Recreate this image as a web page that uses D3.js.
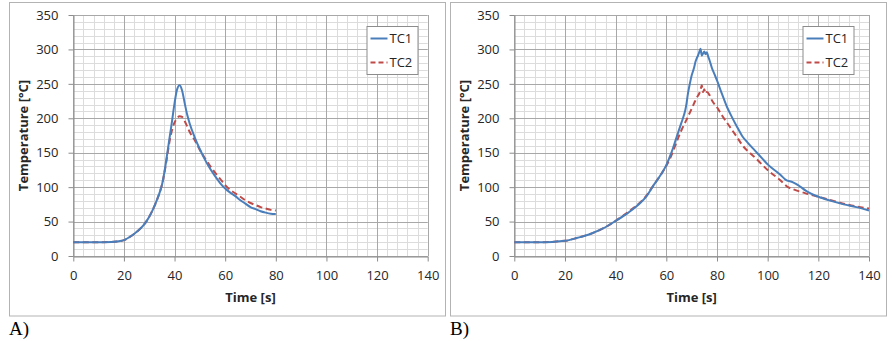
<!DOCTYPE html>
<html>
<head>
<meta charset="utf-8">
<script src="https://cdn.jsdelivr.net/npm/d3@7"></script>
<style>
  html, body { margin: 0; padding: 0; background: #fff; }
  svg { display: block; }
  text { font-family: "Open Sans", "Noto Sans", sans-serif; }
</style>
</head>
<body>
<svg id="chart" width="893" height="341"></svg>
<script>
// Time axis ticks [s] and temperature ticks [°C]
const timeTicks = [0, 20, 40, 60, 80, 100, 120, 140];
const tempTicks = [0, 50, 100, 150, 200, 250, 300, 350];
const seriesNames = ["TC1", "TC2"];
const panelLabels = ["A)", "B)"];

// Test A: time [s]
const timeA = [0, 5, 10, 15, 18, 20, 22, 24, 26, 28, 29, 30, 31, 32, 33, 34, 35, 36, 37, 38, 39, 40, 41, 42, 43, 44, 45, 46, 48, 50, 52, 54, 56, 58, 60, 62, 64, 66, 68, 70, 72, 74, 76, 78, 80];
const tc1A = [20, 20, 20, 20.5, 21.5, 23, 27, 32, 38, 46, 51, 57, 64, 72, 81, 91, 103, 122, 146, 171, 196, 222, 242, 248, 240, 222, 205, 192, 172, 155, 140, 127, 116, 106, 98, 92, 87, 81, 76, 71, 68, 65, 63, 61.5, 61];
const tc2A = [20, 20, 20, 20.5, 21.5, 23, 27, 32, 38, 46, 51, 57, 64, 72, 81, 91, 103, 121, 143, 166, 183, 194, 200, 203, 202, 196, 188, 180, 168, 154, 142, 131, 121, 112, 103, 96, 91, 86, 81, 77, 74, 71, 69, 67, 66];

// Test B: time [s]
const timeB1 = [0, 5, 10, 15, 18, 20, 25, 30, 35, 40, 45, 50, 52, 55, 58, 60, 62, 64, 66, 67, 67.5, 68, 68.5, 69, 69.5, 70, 70.5, 71, 71.5, 72, 72.5, 73, 73.5, 74, 74.5, 75, 75.5, 76, 76.5, 77, 78, 79, 80, 82, 84, 86, 88, 90, 92, 95, 98, 100, 105, 107, 110, 112, 115, 120, 125, 130, 135, 140];
const tc1B = [20, 20, 20, 20.5, 21.5, 22, 26.5, 32, 40, 51, 63, 78, 86, 103, 119, 132, 150, 172, 194, 205, 212, 222, 235, 245, 254, 262, 268, 274, 282, 287, 291, 296, 301, 291, 294, 297, 293, 296, 290, 285, 273, 264, 255, 235, 216, 201, 187, 174, 165, 153, 141, 133, 118, 111, 107, 103, 95, 86, 80, 75, 71, 66];
const timeB2 = [0, 5, 10, 15, 18, 20, 25, 30, 35, 40, 45, 50, 52, 55, 58, 60, 62, 64, 66, 68, 70, 71, 72, 73, 73.5, 74, 74.5, 75, 75.5, 76, 77, 78, 80, 82, 85, 88, 90, 95, 100, 105, 108, 110, 115, 120, 125, 130, 135, 140];
const tc2B = [20, 20, 20, 20.5, 21.5, 22, 26.5, 32, 40, 51, 64, 79, 87, 103, 119, 131, 146, 165, 183, 198, 214, 222, 230, 236, 241, 248, 238, 242, 236, 238, 234, 226, 216, 204, 188, 172, 161, 143, 125, 110, 100, 97, 91, 86, 81, 76, 72, 69];

const colors = { TC1: "#4a7ebb", TC2: "#be4b48" };

const svg = d3.select("#chart");

function drawPanel(cfg) {
  const g = svg.append("g");

  // outer frame
  g.append("rect")
    .attr("x", cfg.frame[0]).attr("y", cfg.frame[1])
    .attr("width", cfg.frame[2]).attr("height", cfg.frame[3])
    .attr("fill", "#fff").attr("stroke", "#b3b3b3").attr("stroke-width", 1);

  const x = d3.scaleLinear().domain([0, 140]).range([cfg.left, cfg.right]);
  const y = d3.scaleLinear().domain([0, 350]).range([256, 15]);

  // minor grid
  const minorX = d3.range(0, 141, 4);
  const minorY = d3.range(0, 351, 10);
  g.append("g").selectAll("line").data(minorX).join("line")
    .attr("x1", d => Math.round(x(d)) + 0.5).attr("x2", d => Math.round(x(d)) + 0.5)
    .attr("y1", y(0)).attr("y2", y(350))
    .attr("stroke", "#dcdcdc").attr("stroke-width", 1);
  g.append("g").selectAll("line").data(minorY).join("line")
    .attr("y1", d => Math.round(y(d)) + 0.5).attr("y2", d => Math.round(y(d)) + 0.5)
    .attr("x1", x(0)).attr("x2", x(140))
    .attr("stroke", "#dcdcdc").attr("stroke-width", 1);

  // major grid
  g.append("g").selectAll("line").data(timeTicks).join("line")
    .attr("x1", d => Math.round(x(d)) + 0.5).attr("x2", d => Math.round(x(d)) + 0.5)
    .attr("y1", y(0)).attr("y2", y(350))
    .attr("stroke", "#a8a8a8").attr("stroke-width", 1);
  g.append("g").selectAll("line").data(tempTicks).join("line")
    .attr("y1", d => Math.round(y(d)) + 0.5).attr("y2", d => Math.round(y(d)) + 0.5)
    .attr("x1", x(0)).attr("x2", x(140))
    .attr("stroke", "#a8a8a8").attr("stroke-width", 1);

  // axes
  const xAxis = g.append("g")
    .attr("transform", `translate(0,${Math.round(y(0)) + 0.5})`)
    .call(d3.axisBottom(x).tickValues(timeTicks).tickSize(5).tickPadding(6).tickSizeOuter(0));
  const yAxis = g.append("g")
    .attr("transform", `translate(${Math.round(x(0)) + 0.5},0)`)
    .call(d3.axisLeft(y).tickValues(tempTicks).tickSize(5).tickPadding(10).tickSizeOuter(0));
  [xAxis, yAxis].forEach(a => {
    a.select(".domain").attr("stroke", "#8c8c8c");
    a.selectAll(".tick line").attr("stroke", "#8c8c8c");
    a.selectAll(".tick text").attr("fill", "#262626")
      .style("font-size", "13px").style("font-family", "'Open Sans', sans-serif");
  });
  xAxis.selectAll(".tick text").attr("dy", "0.95em");

  // axis titles
  g.append("text")
    .attr("x", (x(0) + x(140)) / 2).attr("y", 302)
    .attr("text-anchor", "middle")
    .style("font-size", "13px").style("font-weight", "bold").attr("fill", "#262626")
    .text("Time [s]");
  g.append("text")
    .attr("transform", `translate(${cfg.left - 45},${(y(0) + y(350)) / 2}) rotate(-90)`)
    .attr("text-anchor", "middle")
    .style("font-size", "13px").style("font-weight", "bold").attr("fill", "#262626")
    .text("Temperature [°C]");

  // series
  const line = d3.line().x(d => x(d[0])).y(d => y(d[1])).curve(d3.curveMonotoneX);
  g.append("path")
    .datum(d3.zip(cfg.t2, cfg.tc2))
    .attr("d", line).attr("fill", "none")
    .attr("stroke", colors.TC2).attr("stroke-width", 2)
    .attr("stroke-dasharray", "6,3.5");
  g.append("path")
    .datum(d3.zip(cfg.t1, cfg.tc1))
    .attr("d", line).attr("fill", "none")
    .attr("stroke", colors.TC1).attr("stroke-width", 2);

  // legend
  const lg = g.append("g").attr("transform", `translate(${cfg.legendX},26)`);
  lg.append("rect").attr("x", 0.5).attr("y", 0.5).attr("width", 51).attr("height", 48)
    .attr("fill", "#fff").attr("stroke", "#8c8c8c").attr("stroke-width", 1);
  seriesNames.forEach((name, i) => {
    const ly = 12.5 + i * 24;
    lg.append("line").attr("x1", 4).attr("x2", 21).attr("y1", ly).attr("y2", ly)
      .attr("stroke", colors[name]).attr("stroke-width", 2)
      .attr("stroke-dasharray", name === "TC2" ? "5,3" : null);
    lg.append("text").attr("x", 23).attr("y", ly).attr("dy", "0.35em")
      .style("font-size", "13px").attr("fill", "#262626").text(name);
  });

  // panel label
  g.append("text")
    .attr("x", cfg.frame[0] - 0.5).attr("y", 334.5)
    .style("font-family", "'Liberation Serif', 'Times New Roman', serif")
    .style("font-size", "19px").attr("fill", "#000")
    .text(cfg.label);
}

drawPanel({
  frame: [9.5, 2.5, 436, 313.5], left: 73.3, right: 427.7, legendX: 366.5,
  t1: timeA, tc1: tc1A, t2: timeA, tc2: tc2A, label: panelLabels[0]
});
drawPanel({
  frame: [450.5, 2.5, 436, 313.5], left: 514.3, right: 869, legendX: 802.5,
  t1: timeB1, tc1: tc1B, t2: timeB2, tc2: tc2B, label: panelLabels[1]
});
</script>
</body>
</html>
